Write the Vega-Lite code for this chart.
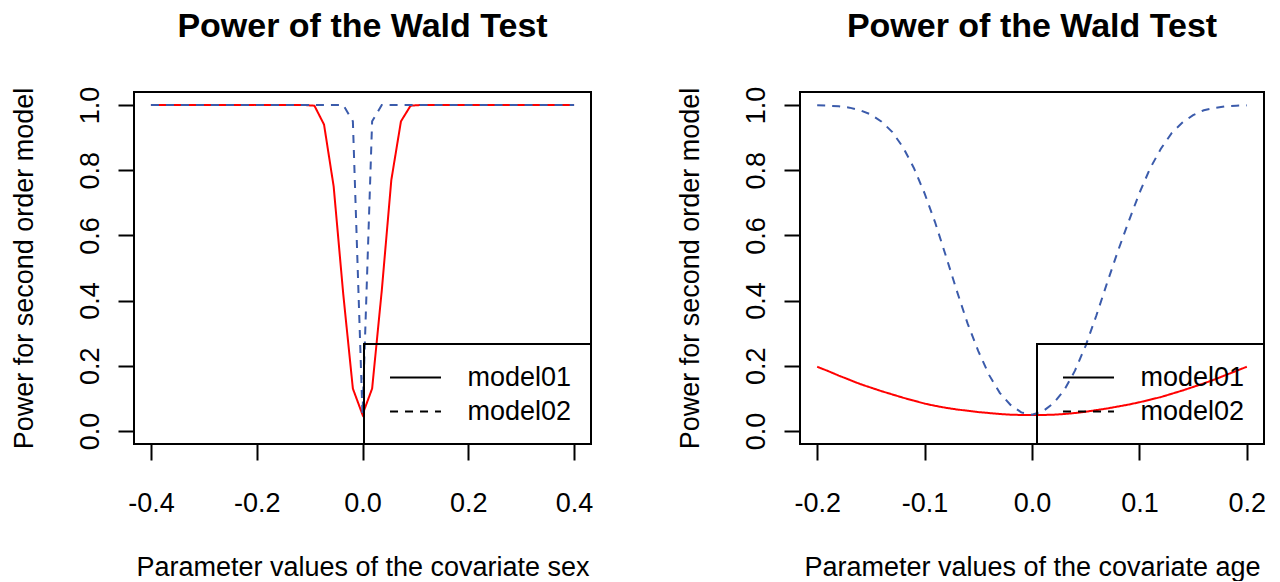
{
  "$schema": "https://vega.github.io/schema/vega-lite/v6.json",
  "background": "white",
  "padding": {"left": 8, "top": 9, "right": 0, "bottom": 0},
  "spacing": 80,
  "resolve": {"scale": {"strokeDash": "independent"}, "legend": {"strokeDash": "independent"}},
  "datasets": {
    "sex": [
      {"x": -0.4, "model01": 1.0, "model02": 1.0},
      {"x": -0.3818, "model01": 1.0, "model02": 1.0},
      {"x": -0.3636, "model01": 1.0, "model02": 1.0},
      {"x": -0.3455, "model01": 1.0, "model02": 1.0},
      {"x": -0.3273, "model01": 1.0, "model02": 1.0},
      {"x": -0.3091, "model01": 1.0, "model02": 1.0},
      {"x": -0.2909, "model01": 1.0, "model02": 1.0},
      {"x": -0.2727, "model01": 1.0, "model02": 1.0},
      {"x": -0.2545, "model01": 1.0, "model02": 1.0},
      {"x": -0.2364, "model01": 1.0, "model02": 1.0},
      {"x": -0.2182, "model01": 1.0, "model02": 1.0},
      {"x": -0.2, "model01": 1.0, "model02": 1.0},
      {"x": -0.1818, "model01": 1.0, "model02": 1.0},
      {"x": -0.1636, "model01": 1.0, "model02": 1.0},
      {"x": -0.1455, "model01": 1.0, "model02": 1.0},
      {"x": -0.1273, "model01": 1.0, "model02": 1.0},
      {"x": -0.1091, "model01": 1.0, "model02": 1.0},
      {"x": -0.0909, "model01": 0.998, "model02": 1.0},
      {"x": -0.0727, "model01": 0.94, "model02": 1.0},
      {"x": -0.0545, "model01": 0.75, "model02": 1.0},
      {"x": -0.0364, "model01": 0.42, "model02": 1.0},
      {"x": -0.0182, "model01": 0.13, "model02": 0.95},
      {"x": 0.0, "model01": 0.05, "model02": 0.05},
      {"x": 0.0182, "model01": 0.13, "model02": 0.95},
      {"x": 0.0364, "model01": 0.43, "model02": 1.0},
      {"x": 0.0545, "model01": 0.77, "model02": 1.0},
      {"x": 0.0727, "model01": 0.95, "model02": 1.0},
      {"x": 0.0909, "model01": 0.998, "model02": 1.0},
      {"x": 0.1091, "model01": 1.0, "model02": 1.0},
      {"x": 0.1273, "model01": 1.0, "model02": 1.0},
      {"x": 0.1455, "model01": 1.0, "model02": 1.0},
      {"x": 0.1636, "model01": 1.0, "model02": 1.0},
      {"x": 0.1818, "model01": 1.0, "model02": 1.0},
      {"x": 0.2, "model01": 1.0, "model02": 1.0},
      {"x": 0.2182, "model01": 1.0, "model02": 1.0},
      {"x": 0.2364, "model01": 1.0, "model02": 1.0},
      {"x": 0.2545, "model01": 1.0, "model02": 1.0},
      {"x": 0.2727, "model01": 1.0, "model02": 1.0},
      {"x": 0.2909, "model01": 1.0, "model02": 1.0},
      {"x": 0.3091, "model01": 1.0, "model02": 1.0},
      {"x": 0.3273, "model01": 1.0, "model02": 1.0},
      {"x": 0.3455, "model01": 1.0, "model02": 1.0},
      {"x": 0.3636, "model01": 1.0, "model02": 1.0},
      {"x": 0.3818, "model01": 1.0, "model02": 1.0},
      {"x": 0.4, "model01": 1.0, "model02": 1.0}
    ],
    "age": [
      {"x": -0.20, "model01": 0.197, "model02": 0.999},
      {"x": -0.19, "model01": 0.184, "model02": 0.998},
      {"x": -0.18, "model01": 0.170, "model02": 0.996},
      {"x": -0.17, "model01": 0.157, "model02": 0.992},
      {"x": -0.16, "model01": 0.144, "model02": 0.984},
      {"x": -0.15, "model01": 0.133, "model02": 0.971},
      {"x": -0.14, "model01": 0.122, "model02": 0.949},
      {"x": -0.13, "model01": 0.112, "model02": 0.917},
      {"x": -0.12, "model01": 0.102, "model02": 0.870},
      {"x": -0.11, "model01": 0.093, "model02": 0.807},
      {"x": -0.10, "model01": 0.084, "model02": 0.729},
      {"x": -0.09, "model01": 0.077, "model02": 0.638},
      {"x": -0.08, "model01": 0.071, "model02": 0.535},
      {"x": -0.07, "model01": 0.066, "model02": 0.430},
      {"x": -0.06, "model01": 0.062, "model02": 0.330},
      {"x": -0.05, "model01": 0.058, "model02": 0.245},
      {"x": -0.04, "model01": 0.055, "model02": 0.172},
      {"x": -0.03, "model01": 0.052, "model02": 0.117},
      {"x": -0.02, "model01": 0.050, "model02": 0.080},
      {"x": -0.01, "model01": 0.049, "model02": 0.057},
      {"x": 0.00, "model01": 0.049, "model02": 0.050},
      {"x": 0.01, "model01": 0.049, "model02": 0.060},
      {"x": 0.02, "model01": 0.050, "model02": 0.085},
      {"x": 0.03, "model01": 0.052, "model02": 0.125},
      {"x": 0.04, "model01": 0.055, "model02": 0.185},
      {"x": 0.05, "model01": 0.059, "model02": 0.262},
      {"x": 0.06, "model01": 0.064, "model02": 0.355},
      {"x": 0.07, "model01": 0.069, "model02": 0.455},
      {"x": 0.08, "model01": 0.075, "model02": 0.552},
      {"x": 0.09, "model01": 0.081, "model02": 0.643},
      {"x": 0.10, "model01": 0.088, "model02": 0.730},
      {"x": 0.11, "model01": 0.096, "model02": 0.806},
      {"x": 0.12, "model01": 0.104, "model02": 0.866},
      {"x": 0.13, "model01": 0.114, "model02": 0.914},
      {"x": 0.14, "model01": 0.124, "model02": 0.946},
      {"x": 0.15, "model01": 0.135, "model02": 0.969},
      {"x": 0.16, "model01": 0.146, "model02": 0.984},
      {"x": 0.17, "model01": 0.158, "model02": 0.991},
      {"x": 0.18, "model01": 0.171, "model02": 0.996},
      {"x": 0.19, "model01": 0.184, "model02": 0.998},
      {"x": 0.20, "model01": 0.197, "model02": 0.999}
    ]
  },
  "config": {
    "font": "Liberation Sans",
    "view": {"stroke": "black", "strokeWidth": 2},
    "title": {"font": "Liberation Sans", "fontSize": 34, "fontWeight": "bold", "color": "black", "anchor": "middle", "frame": "group", "baseline": "alphabetic", "offset": 42},
    "axis": {
      "labelFont": "Liberation Sans", "titleFont": "Liberation Sans",
      "labelFontSize": 27, "titleFontSize": 27, "titleFontWeight": "normal",
      "labelColor": "black", "titleColor": "black",
      "tickColor": "black", "tickWidth": 2, "tickSize": 16,
      "domain": false, "grid": false, "labelFlush": false, "labelOverlap": false, "labelBound": false
    },
    "axisX": {"labelAngle": 0, "labelBaseline": "top", "labelPadding": 30, "titlePadding": 38, "titleBaseline": "top"},
    "axisY": {"labelAngle": 270, "labelAlign": "center", "labelBaseline": "alphabetic", "labelPadding": 20, "titlePadding": 44, "titleBaseline": "alphabetic", "titleAngle": 270},
    "legend": {
      "orient": "bottom-right", "offset": 0, "strokeColor": "black", "padding": 19.5,
      "labelFont": "Liberation Sans", "labelFontSize": 27, "labelColor": "black", "labelOffset": 38,
      "symbolType": "M-1.96,0H1.96", "symbolSize": 676, "symbolStrokeWidth": 2, "symbolStrokeColor": "black", "symbolOffset": 18,
      "rowPadding": 7
    }
  },
  "hconcat": [
    {
      "width": 457, "height": 352,
      "title": "Power of the Wald Test",
      "data": {"name": "sex"},
      "transform": [{"fold": ["model01", "model02"], "as": ["model", "power"]}],
      "encoding": {
        "x": {"field": "x", "type": "quantitative", "scale": {"domain": [-0.432, 0.432], "nice": false, "zero": false},
              "axis": {"values": [-0.4, -0.2, 0, 0.2, 0.4], "title": "Parameter values of the covariate sex",
                       "labelExpr": "datum.value < 0 ? '-' + format(-datum.value, '.1f') : format(datum.value, '.1f')"}},
        "y": {"field": "power", "type": "quantitative", "scale": {"domain": [-0.04, 1.04], "nice": false, "zero": false},
              "axis": {"values": [0, 0.2, 0.4, 0.6, 0.8, 1], "title": "Power for second order model",
                       "labelExpr": "format(datum.value, '.1f')"}},
        "strokeDash": {"field": "model", "type": "nominal", "scale": {"domain": ["model01", "model02"], "range": [[1, 0], [8, 7]]},
                       "legend": {"title": null, "encode": {"legend": {"update": {"strokeWidth": {"value": 2}}}, "symbols": {"update": {"stroke": {"value": "black"}, "strokeWidth": {"value": 2}}}}}}
      },
      "layer": [
        {"transform": [{"filter": "datum.model === 'model01'"}], "mark": {"type": "line", "strokeWidth": 2, "color": "#ff0000"}},
        {"transform": [{"filter": "datum.model === 'model02'"}], "mark": {"type": "line", "strokeWidth": 2, "color": "#3b5bab"}}
      ]
    },
    {
      "width": 464, "height": 352,
      "title": "Power of the Wald Test",
      "data": {"name": "age"},
      "transform": [{"fold": ["model01", "model02"], "as": ["model", "power"]}],
      "encoding": {
        "x": {"field": "x", "type": "quantitative", "scale": {"domain": [-0.216, 0.216], "nice": false, "zero": false},
              "axis": {"values": [-0.2, -0.1, 0, 0.1, 0.2], "title": "Parameter values of the covariate age",
                       "labelExpr": "datum.value < 0 ? '-' + format(-datum.value, '.1f') : format(datum.value, '.1f')"}},
        "y": {"field": "power", "type": "quantitative", "scale": {"domain": [-0.04, 1.04], "nice": false, "zero": false},
              "axis": {"values": [0, 0.2, 0.4, 0.6, 0.8, 1], "title": "Power for second order model",
                       "labelExpr": "format(datum.value, '.1f')"}},
        "strokeDash": {"field": "model", "type": "nominal", "scale": {"domain": ["model01", "model02"], "range": [[1, 0], [8, 7]]},
                       "legend": {"title": null, "encode": {"legend": {"update": {"strokeWidth": {"value": 2}}}, "symbols": {"update": {"stroke": {"value": "black"}, "strokeWidth": {"value": 2}}}}}}
      },
      "layer": [
        {"transform": [{"filter": "datum.model === 'model01'"}], "mark": {"type": "line", "strokeWidth": 2, "color": "#ff0000"}},
        {"transform": [{"filter": "datum.model === 'model02'"}], "mark": {"type": "line", "strokeWidth": 2, "color": "#3b5bab"}}
      ]
    }
  ]
}
